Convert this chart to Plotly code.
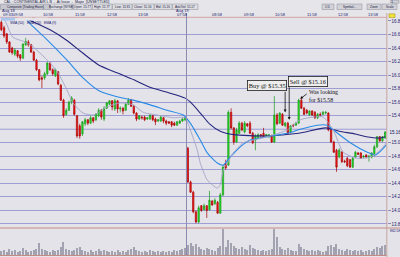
import plotly.graph_objects as go

W, H = 400, 257

# ---------------- data ----------------
open_d1 = [16.78, 16.70, 16.61, 16.49, 16.40, 16.31, 16.36, 16.30, 16.25, 16.45,
           16.49, 16.45, 16.34, 16.22, 16.08, 15.96, 15.96, 16.02, 16.18, 16.08,
           15.99, 16.05, 15.85, 15.63, 15.42, 15.48, 15.60, 15.63, 15.40, 15.25,
           15.13, 15.28, 15.34, 15.29, 15.37, 15.34, 15.40, 15.48, 15.35, 15.51,
           15.57, 15.62, 15.50, 15.62, 15.50, 15.51, 15.48, 15.57, 15.63, 15.54,
           15.44, 15.35, 15.38, 15.38, 15.35, 15.35, 15.40, 15.35, 15.32, 15.32,
           15.37, 15.32, 15.31, 15.31, 15.29, 15.26, 15.29, 15.32, 15.34]
close_d1 = [16.67, 16.58, 16.49, 16.34, 16.33, 16.37, 16.28, 16.25, 16.46, 16.50,
            16.45, 16.34, 16.22, 16.08, 15.93, 15.94, 16.02, 16.18, 16.08, 16.02,
            16.08, 15.87, 15.63, 15.40, 15.48, 15.60, 15.66, 15.42, 15.10, 15.10,
            15.31, 15.34, 15.29, 15.37, 15.32, 15.42, 15.48, 15.38, 15.51, 15.59,
            15.62, 15.53, 15.62, 15.50, 15.51, 15.47, 15.57, 15.63, 15.54, 15.44,
            15.35, 15.40, 15.37, 15.34, 15.37, 15.41, 15.34, 15.31, 15.34, 15.38,
            15.32, 15.29, 15.29, 15.26, 15.26, 15.31, 15.32, 15.35, 15.37]
high_d1 = [16.81, 16.73, 16.62, 16.50, 16.42, 16.40, 16.37, 16.31, 16.47, 16.55,
           16.52, 16.46, 16.36, 16.24, 16.09, 15.99, 16.05, 16.19, 16.19, 16.10,
           16.10, 16.06, 15.87, 15.65, 15.51, 15.62, 15.69, 15.65, 15.41, 15.28,
           15.32, 15.37, 15.35, 15.40, 15.38, 15.44, 15.51, 15.50, 15.54, 15.60,
           15.63, 15.63, 15.65, 15.63, 15.54, 15.53, 15.59, 15.66, 15.65, 15.56,
           15.45, 15.41, 15.40, 15.40, 15.38, 15.42, 15.41, 15.37, 15.35, 15.40,
           15.38, 15.34, 15.32, 15.32, 15.31, 15.32, 15.34, 15.37, 15.38]
low_d1 = [16.65, 16.55, 16.46, 16.33, 16.30, 16.28, 16.25, 16.21, 16.24, 16.43,
          16.42, 16.33, 16.21, 16.06, 15.91, 15.81, 15.93, 16.00, 16.06, 15.99,
          15.97, 15.85, 15.62, 15.37, 15.40, 15.47, 15.57, 15.40, 15.07, 15.06,
          15.10, 15.25, 15.26, 15.28, 15.29, 15.32, 15.38, 15.34, 15.32, 15.50,
          15.56, 15.48, 15.47, 15.44, 15.45, 15.42, 15.47, 15.56, 15.53, 15.42,
          15.32, 15.34, 15.34, 15.32, 15.34, 15.34, 15.32, 15.26, 15.31, 15.31,
          15.29, 15.26, 15.28, 15.23, 15.25, 15.25, 15.28, 15.31, 15.32]

open_d2 = [14.92, 14.42, 14.27, 13.98, 13.83, 14.07, 14.01, 14.07, 14.01, 14.14,
           14.10, 14.12, 13.96, 14.23, 14.69, 14.67, 15.45, 15.22, 15.01, 15.14,
           15.29, 15.16, 15.28, 15.29, 15.14, 15.04, 15.07, 15.12, 15.14, 15.10,
           15.09, 15.10, 15.01, 15.41, 15.29, 15.42, 15.25, 15.29, 15.16, 15.26,
           15.26, 15.29, 15.63, 15.51, 15.48, 15.41, 15.47, 15.45, 15.37, 15.42,
           15.42, 15.44, 15.44, 15.19, 15.01, 14.89, 14.79, 14.86, 14.73, 14.77,
           14.75, 14.64, 14.79, 14.85, 14.85, 14.79, 14.82, 14.79, 14.79, 14.82,
           14.94, 15.09, 15.03, 15.07]
close_d2 = [14.42, 14.27, 13.98, 13.83, 14.04, 14.00, 14.07, 14.00, 14.15, 14.08,
            14.15, 13.96, 14.23, 14.64, 14.63, 15.45, 15.22, 15.01, 15.19, 15.29,
            15.19, 15.29, 15.25, 15.14, 15.00, 15.10, 15.12, 15.10, 15.09, 15.12,
            15.12, 15.01, 15.41, 15.28, 15.44, 15.26, 15.29, 15.14, 15.25, 15.25,
            15.29, 15.63, 15.51, 15.42, 15.44, 15.47, 15.41, 15.37, 15.42, 15.41,
            15.45, 15.45, 15.19, 15.01, 14.86, 14.64, 14.89, 14.72, 14.72, 14.66,
            14.64, 14.77, 14.86, 14.83, 14.77, 14.80, 14.79, 14.80, 14.85, 14.94,
            15.09, 15.03, 15.09, 15.16]
high_d2 = [14.94, 14.44, 14.29, 14.00, 14.07, 14.08, 14.10, 14.08, 14.29, 14.15,
           14.18, 14.14, 14.26, 14.67, 14.75, 15.48, 15.51, 15.23, 15.22, 15.32,
           15.31, 15.32, 15.29, 15.32, 15.16, 15.13, 15.14, 15.13, 15.22, 15.13,
           15.13, 15.12, 15.69, 15.44, 15.45, 15.44, 15.31, 15.31, 15.26, 15.28,
           15.31, 15.65, 15.68, 15.53, 15.50, 15.48, 15.48, 15.47, 15.44, 15.45,
           15.47, 15.47, 15.45, 15.20, 15.03, 14.91, 14.92, 14.88, 14.75, 14.79,
           14.76, 14.79, 14.88, 14.86, 14.86, 14.82, 14.83, 14.82, 14.86, 14.97,
           15.10, 15.10, 15.10, 15.17]
low_d2 = [14.41, 14.26, 13.96, 13.81, 13.81, 13.98, 14.00, 13.89, 14.00, 14.07,
          14.08, 13.95, 13.95, 14.21, 14.60, 14.66, 15.20, 14.97, 15.00, 15.13,
          15.17, 15.14, 15.23, 15.13, 14.98, 14.89, 15.06, 15.07, 15.07, 15.09,
          15.07, 15.00, 15.00, 15.26, 15.28, 15.25, 15.23, 15.13, 15.14, 15.23,
          15.25, 15.28, 15.50, 15.41, 15.42, 15.40, 15.40, 15.35, 15.35, 15.40,
          15.41, 15.42, 15.17, 15.00, 14.85, 14.57, 14.77, 14.70, 14.70, 14.64,
          14.63, 14.63, 14.77, 14.82, 14.76, 14.77, 14.77, 14.72, 14.77, 14.80,
          14.92, 15.01, 15.01, 15.06]

volume_d1 = [40, 50, 30, 60, 40, 50, 30, 40, 70, 50, 30,
             40, 50, 60, 120, 60, 50, 40, 30, 50, 40,
             50, 80, 130, 60, 50, 40, 50, 70, 80, 50,
             40, 30, 50, 30, 40, 60, 40, 50, 40, 30,
             40, 30, 50, 30, 40, 30, 50, 60, 80, 50,
             40, 30, 40, 30, 50, 40, 30, 40, 30, 40,
             30, 40, 30, 50, 40, 50, 60, 70]
volume_d2 = [100, 120, 90, 110, 80, 60, 50, 70, 60, 50, 40, 70,
             90, 270, 80, 150, 120, 90, 70, 60, 80, 60,
             50, 100, 70, 60, 50, 40, 50, 40, 50, 60,
             270, 180, 80, 60, 50, 70, 50, 40, 40, 110,
             80, 60, 50, 40, 50, 40, 50, 40, 30, 40,
             90, 100, 80, 110, 60, 50, 40, 60, 50, 40,
             50, 40, 50, 30, 40, 50, 40, 60, 80, 70, 90, 100]

open_ = open_d1 + open_d2
close = close_d1 + close_d2
high = high_d1 + high_d2
low = low_d1 + low_d2
volume = volume_d1 + volume_d2
bar_idx = list(range(len(open_)))

# moving averages (read as sample points)
sma_x = [0, 9, 18, 24, 30, 36, 43, 49, 55, 61, 68, 70, 74, 77, 81, 86, 98, 110, 120, 125, 131, 135, 140, 142]
sma_y = [17.02, 16.84, 16.67, 16.52, 16.33, 16.15, 16.03, 15.93, 15.82, 15.75, 15.66, 15.60,
         15.42, 15.28, 15.17, 15.12, 15.10, 15.14, 15.22, 15.17, 15.13, 15.09, 15.07, 15.09]
ema_mid_x = [7, 10.6, 16.2, 24.3, 30.2, 36.5, 42.8, 48.8, 55.1, 61.3, 67.3, 69.9, 73.6, 76.2,
             79.9, 82.1, 84.7, 88.4, 92.1, 98.4, 105.8, 110.6, 116.9, 120.6, 122.8, 129.1,
             135.4, 138.4, 142.5]
ema_mid_y = [16.95, 16.76, 16.55, 16.22, 15.96, 15.76, 15.68, 15.63, 15.56, 15.48, 15.41, 15.29,
             15.04, 14.85, 14.70, 14.67, 14.79, 14.94, 15.04, 15.09, 15.14, 15.20, 15.26, 15.26,
             15.19, 15.00, 14.86, 14.82, 14.97]
ema_fast_x = [0, 1.35, 4.3, 8.8, 11.7, 18, 21, 24.3, 26.5, 30.2, 34, 39.1, 43.9, 48.8, 52.5,
              57.6, 63.6, 68, 69.9, 72.5, 73.6, 76.2, 79.9, 81, 82.1, 83.6, 85.8, 89.5, 93.2,
              98.4, 105.8, 110.6, 115.4, 119.1, 122.8, 126.5, 131.7, 136.5, 140.2, 142.5]
ema_fast_y = [16.90, 16.81, 16.56, 16.49, 16.42, 16.18, 16.03, 15.78, 15.59, 15.44, 15.41, 15.53,
              15.59, 15.56, 15.45, 15.41, 15.37, 15.37, 15.19, 14.89, 14.70, 14.45, 14.33, 14.38,
              14.60, 14.70, 14.85, 15.00, 15.04, 15.09, 15.19, 15.34, 15.38, 15.38, 15.19, 14.86,
              14.77, 14.79, 14.89, 15.00]

# price axis ticks (15.2 is hidden behind the last-price tag)
price_ticks = [13.8, 14.0, 14.2, 14.4, 14.6, 14.8, 15.0, 15.4, 15.6, 15.8, 16.0, 16.2, 16.4, 16.6, 16.8]
hidden_grid = [15.2]

# time labels along the top
time_tick_idx = [2.5, 6.5, 17.6, 29.1, 41.0, 52.5, 66.9, 79.9, 91.7, 103.2, 115.1, 126.5, 137.6]
time_tick_txt = ["09:33", "09:58", "10:58", "11:58", "12:58", "13:58",
                 "07:58", "08:58", "09:58", "10:58", "11:58", "12:58", "13:58"]
date_tick_idx = [2.5, 66.9]
date_tick_txt = ["Aug 18", "Aug 19"]
last_price = 15.16
day_break = 68.5

# ---------------- helpers ----------------
def py(y):
    return 1 - y / H

def pxx(x):
    return x / W

fig = go.Figure()

fig.add_trace(go.Bar(x=bar_idx, y=volume, width=0.4, xaxis='x', yaxis='y2',
                     marker=dict(color='#a2a2b0', line=dict(width=0)),
                     hoverinfo='skip', showlegend=False))

fig.add_trace(go.Candlestick(
    x=bar_idx, open=open_, high=high, low=low, close=close,
    increasing=dict(line=dict(color='#1c9a1c', width=0.7), fillcolor='#1ee61e'),
    decreasing=dict(line=dict(color='#a80000', width=0.7), fillcolor='#ff1818'),
    whiskerwidth=0, xaxis='x', yaxis='y', hoverinfo='skip', showlegend=False))

fig.add_trace(go.Scatter(x=sma_x, y=sma_y, mode='lines', xaxis='x', yaxis='y',
                         line=dict(color='#26267e', width=1.1, shape='spline', smoothing=0.6),
                         hoverinfo='skip', showlegend=False))
fig.add_trace(go.Scatter(x=ema_mid_x, y=ema_mid_y, mode='lines', xaxis='x', yaxis='y',
                         line=dict(color='#2a8ae6', width=1.1, shape='spline', smoothing=0.6),
                         hoverinfo='skip', showlegend=False))
fig.add_trace(go.Scatter(x=ema_fast_x, y=ema_fast_y, mode='lines', xaxis='x', yaxis='y',
                         line=dict(color='#a4a4c8', width=0.9, shape='spline', smoothing=0.6),
                         hoverinfo='skip', showlegend=False))

shapes = []
# header band
shapes.append(dict(type='rect', xref='paper', yref='paper', x0=0, x1=1, y0=py(17), y1=1,
                   fillcolor='#e6e6ea', line=dict(width=0), layer='below'))
for g in hidden_grid:
    shapes.append(dict(type='line', xref='paper', yref='y', x0=0, x1=386.5 / W, y0=g, y1=g,
                       line=dict(color='#9e9ed4', width=1), layer='below'))
# header boxes
header_boxes = [
    (0.5, 50, "Composite [Trading Hours]", '#c6c6ce'),
    (50.5, 72, "Exchange [NYSE]", '#dedee2'),
    (72.5, 92, "Open: 15.77", '#dedee2'),
    (92.5, 112, "High: 15.77", '#dedee2'),
    (112.5, 132, "Low: 13.81", '#dedee2'),
    (132.5, 154, "Close: 15.16", '#dedee2'),
    (154.5, 172, "Bid: 15.16", '#dedee2'),
    (172.5, 198, "Ask/Vol: 15.17", '#dedee2'),
    (322, 334, "1 D", '#d2d2d8'),
    (337, 362, "Symbol...", '#d2d2d8'),
    (367, 381, "Zoom", '#d2d2d8'),
    (382, 397, "Scale", '#d2d2d8'),
]
annotations = []
for x0, x1, t, c in header_boxes:
    shapes.append(dict(type='rect', xref='paper', yref='paper', x0=pxx(x0), x1=pxx(x1),
                       y0=py(9.5), y1=py(4), fillcolor=c, line=dict(color='#8a8a98', width=0.5)))
    annotations.append(dict(xref='paper', yref='paper', x=pxx((x0 + x1) / 2), y=py(6.8),
                            text=t, showarrow=False, xanchor='center', yanchor='middle',
                            font=dict(size=3.1, color='#1a1a40', family='Liberation Sans')))
annotations.append(dict(xref='paper', yref='paper', x=pxx(2), y=py(1.8), showarrow=False,
                        text="CAL : CONTINENTAL AIR L B  -  At Issue  -  Major  [UNSETTLED]",
                        xanchor='left', yanchor='middle',
                        font=dict(size=3.6, color='#202040', family='Liberation Sans')))
shapes.append(dict(type='rect', xref='paper', yref='paper', x0=pxx(392), x1=pxx(399),
                   y0=py(3.2), y1=py(0.2), fillcolor='#d0d0d6', line=dict(color='#8a8a98', width=0.5)))
annotations.append(dict(xref='paper', yref='paper', x=pxx(395.5), y=py(1.7), text="CL", showarrow=False,
                        yanchor='middle', font=dict(size=2.6, color='#202040', family='Liberation Sans')))

# pink line under the time row, red lines framing volume panel
shapes.append(dict(type='line', xref='paper', yref='paper', x0=0, x1=pxx(387), y0=py(17.3), y1=py(17.3),
                   line=dict(color='#d6a2a2', width=1)))
shapes.append(dict(type='line', xref='paper', yref='paper', x0=0, x1=pxx(400), y0=py(228), y1=py(228),
                   line=dict(color='#c48a84', width=1)))
shapes.append(dict(type='line', xref='paper', yref='paper', x0=0, x1=pxx(387), y0=py(255.5), y1=py(255.5),
                   line=dict(color='#c48a84', width=1)))
# right border of plot
shapes.append(dict(type='line', xref='paper', yref='paper', x0=pxx(386.8), x1=pxx(386.8), y0=0, y1=py(13),
                   line=dict(color='#c8a49c', width=1)))
# day separator
shapes.append(dict(type='line', xref='x', yref='paper', x0=day_break, x1=day_break, y0=py(255), y1=py(13),
                   line=dict(color='#8a8ab2', width=1)))
# yellow marker on axis
shapes.append(dict(type='rect', xref='paper', yref='paper', x0=pxx(389), x1=pxx(395), y0=py(17.5), y1=py(13.8),
                   fillcolor='#f2e23a', line=dict(color='#9a8a10', width=0.5)))
# legend boxes
legend_items = [(1, 15, "SMA (50)", '#a9c6ee'), (18, 32, "EMA (20)", '#e6e6ea'), (35, 48, "EMA (9)", '#e6e6ea')]
for x0, x1, t, c in legend_items:
    shapes.append(dict(type='rect', xref='paper', yref='paper', x0=pxx(x0), x1=pxx(x1), y0=py(20.6), y1=py(17.6),
                       fillcolor=c, line=dict(width=0)))
    annotations.append(dict(xref='paper', yref='paper', x=pxx((x0 + x1) / 2), y=py(19.1), text=t,
                            showarrow=False, font=dict(size=3.4, color='#1a1a70', family='Liberation Sans')))

# time labels
for xi, t in zip(time_tick_idx, time_tick_txt):
    annotations.append(dict(xref='x', yref='paper', x=xi, y=py(14.6), text=t, showarrow=False,
                            xanchor='center', yanchor='middle',
                            font=dict(size=4, color='#20206e', family='Liberation Sans')))
for xi, t in zip(date_tick_idx, date_tick_txt):
    annotations.append(dict(xref='x', yref='paper', x=xi, y=py(10.8), text=t, showarrow=False,
                            xanchor='center', yanchor='middle',
                            font=dict(size=4, color='#20206e', family='Liberation Sans')))

# current price and volume labels
annotations.append(dict(xref='paper', yref='y', x=pxx(387.5), y=last_price, text="15.16", showarrow=False,
                        xanchor='left', yanchor='middle', bgcolor='#e3e3ec', borderpad=0.5,
                        font=dict(size=4.5, color='#10105a', family='Liberation Sans')))
annotations.append(dict(xref='paper', yref='paper', x=pxx(388), y=py(230.5), text="862.5K", showarrow=False,
                        xanchor='left', yanchor='middle',
                        font=dict(size=3.4, color='#20206e', family='Liberation Sans')))

# trade notes
box_font = dict(size=6.3, color='#101010', family='Liberation Serif')
annotations.append(dict(xref='x', yref='y', x=98.4, y=15.85, text="Buy @ $15.35", showarrow=False,
                        bgcolor='#ededed', bordercolor='#202020', borderwidth=0.8, borderpad=1, font=box_font))
annotations.append(dict(xref='x', yref='y', x=113.6, y=15.91, text="Sell @ $15.16", showarrow=False,
                        bgcolor='#ededed', bordercolor='#202020', borderwidth=0.8, borderpad=1, font=box_font))
annotations.append(dict(xref='x', yref='y', x=113.2, y=15.69, text="Was looking<br>for $15.58", showarrow=False,
                        xanchor='left', yanchor='middle', align='left', font=dict(size=5.8, color='#101010',
                                                                               family='Liberation Serif')))
arrow = dict(showarrow=True, arrowhead=2, arrowsize=0.7, arrowwidth=0.8, arrowcolor='#101010', text='')
annotations.append(dict(xref='x', yref='y', x=105.0, y=15.45, ax=0, ay=-22, **arrow))
annotations.append(dict(xref='x', yref='y', x=106.5, y=15.34, ax=0, ay=-34, **arrow))
annotations.append(dict(xref='x', yref='y', x=110.6, y=15.65, ax=8, ay=-6, **arrow))

fig.update_layout(
    width=W, height=H, margin=dict(l=0, r=0, t=0, b=0),
    paper_bgcolor='#e3e3e9', plot_bgcolor='#e3e3e9', showlegend=False,
    xaxis=dict(domain=[0, 386.5 / W], range=[-0.5, 142.5], showgrid=False, zeroline=False,
               showticklabels=False, ticks='', rangeslider=dict(visible=False), anchor='y'),
    yaxis=dict(domain=[1 - 228 / H, 1 - 20 / H], range=[13.7405, 16.8145], side='right',
               tickmode='array', tickvals=price_ticks, showgrid=True, gridcolor='#9e9ed4', gridwidth=1,
               zeroline=False, ticks='outside', ticklen=3, tickcolor='#8c8cb4', tickformat='.1f',
               tickfont=dict(size=4.5, color='#24246e', family='Liberation Sans'), showline=False),
    yaxis2=dict(domain=[1 - 255 / H, 1 - 229 / H], range=[0, 260], showgrid=False, zeroline=False,
                showticklabels=False, side='right', anchor='x'),
    bargap=0,
    shapes=shapes,
    annotations=annotations,
)

fig.write_html("out.html")
